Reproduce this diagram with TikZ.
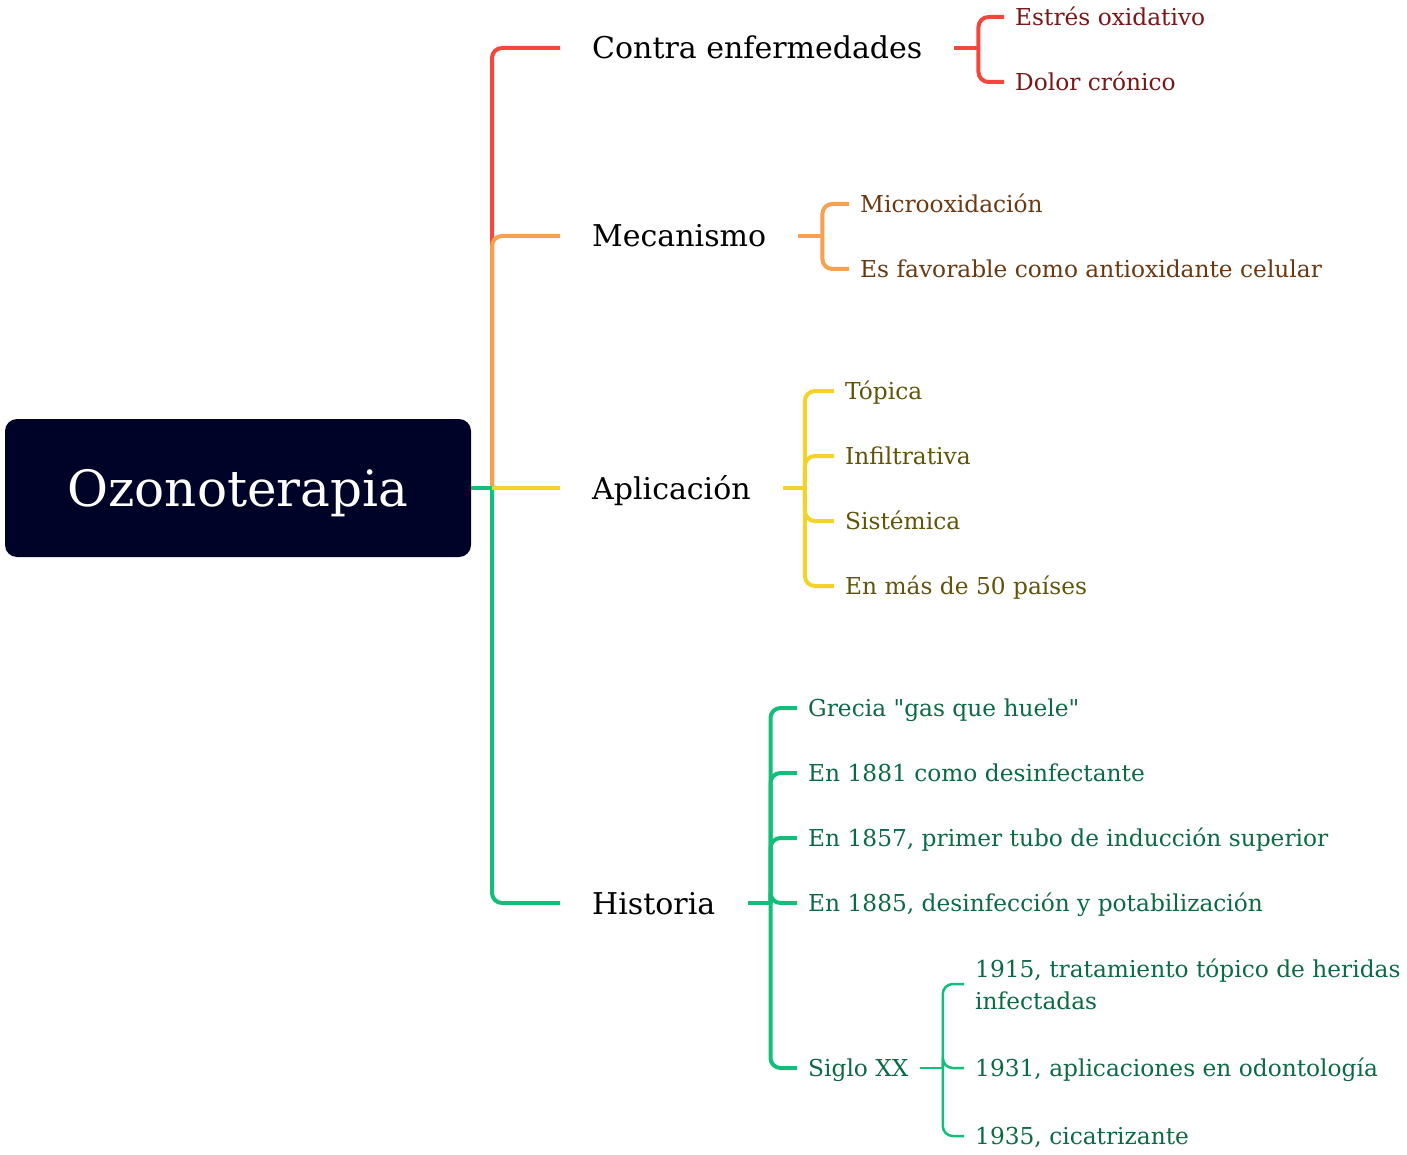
\documentclass[tikz,border=0pt]{standalone}
\usepackage{fontspec}
\setmainfont{DejaVu Serif}[Ligatures=TeXOff]
\definecolor{rootfill}{HTML}{000328}
\definecolor{redline}{HTML}{F5463E}
\definecolor{redtext}{HTML}{7A1616}
\definecolor{orangeline}{HTML}{F7A050}
\definecolor{orangetext}{HTML}{6A3912}
\definecolor{yellowline}{HTML}{F3D22A}
\definecolor{yellowtext}{HTML}{5F5408}
\definecolor{greenline}{HTML}{12BE7A}
\definecolor{greentext}{HTML}{0B6A45}
\tikzset{
  branch/.style={line width=4pt, rounded corners=10pt},
  thinbranch/.style={line width=2.5pt, rounded corners=10pt},
  topic/.style={anchor=west, inner xsep=32pt, inner ysep=0pt, text height=22pt, text depth=0pt, font=\fontsize{30}{36}\selectfont},
  leaf/.style={anchor=west, inner xsep=11pt, inner ysep=0pt, text height=17pt, text depth=0pt, font=\fontsize{23.3}{32}\selectfont},
}
\begin{document}
\begin{tikzpicture}[x=1pt,y=-1pt]
\useasboundingbox (0,0) rectangle (1407,1155);

% central topic
\node[fill=rootfill, rounded corners=12pt, minimum width=466pt, minimum height=138pt, text height=36pt, text depth=0pt, text=white, font=\fontsize{50}{60}\selectfont] (root) at (238,488) {Ozonoterapia};
\coordinate (hub) at (492,488);

% main topics
\node[topic] (contra) at (560,48) {Contra enfermedades};
\node[topic] (meca) at (560,236) {Mecanismo};
\node[topic] (aplic) at (560,488) {Aplicación};
\node[topic] (hist) at (560,903) {Historia};

\draw[branch, redline] (hub) |- (contra.west);
\draw[branch, orangeline] (hub) |- (meca.west);
\draw[line width=4pt, greenline] (root.east |- hub) -- (hub);
\draw[branch, greenline] (hub) |- (hist.west);
\draw[branch, yellowline] (hub) -- (aplic.west);

% contra enfermedades
\node[leaf, text=redtext] (estres) at (1004,17) {Estrés oxidativo};
\node[leaf, text=redtext] (dolor) at (1004,82) {Dolor crónico};
\draw[branch, redline] (contra.east) -- ++(24,0) coordinate (contraj);
\draw[branch, redline] (contraj) |- (estres.west);
\draw[branch, redline] (contraj) |- (dolor.west);

% mecanismo
\node[leaf, text=orangetext] (micro) at (849,204) {Microoxidación};
\node[leaf, text=orangetext] (antiox) at (849,269) {Es favorable como antioxidante celular};
\draw[branch, orangeline] (meca.east) -- ++(24,0) coordinate (mecaj);
\draw[branch, orangeline] (mecaj) |- (micro.west);
\draw[branch, orangeline] (mecaj) |- (antiox.west);

% aplicacion
\node[leaf, text=yellowtext] (topica) at (834,391) {Tópica};
\node[leaf, text=yellowtext] (infil) at (834,456) {Infiltrativa};
\node[leaf, text=yellowtext] (sist) at (834,521) {Sistémica};
\node[leaf, text=yellowtext] (paises) at (834,586) {En más de 50 países};
\draw[branch, yellowline] (aplic.east) -- ++(22,0) coordinate (aplicj);
\draw[branch, yellowline] (aplicj) |- (topica.west);
\draw[branch, yellowline] (aplicj) |- (infil.west);
\draw[branch, yellowline] (aplicj) |- (sist.west);
\draw[branch, yellowline] (aplicj) |- (paises.west);

% historia
\node[leaf, text=greentext] (grecia) at (797,708) {Grecia "gas que huele"};
\node[leaf, text=greentext] (y1881) at (797,773) {En 1881 como desinfectante};
\node[leaf, text=greentext] (y1857) at (797,838) {En 1857, primer tubo de inducción superior};
\node[leaf, text=greentext] (y1885) at (797,903) {En 1885, desinfección y potabilización};
\node[leaf, text=greentext] (siglo) at (797,1068) {Siglo XX};
\draw[branch, greenline] (hist.east) -- ++(23,0) coordinate (histj);
\draw[branch, greenline] (histj) |- (grecia.west);
\draw[branch, greenline] (histj) |- (y1881.west);
\draw[branch, greenline] (histj) |- (y1857.west);
\draw[branch, greenline] (histj) |- (y1885.west);
\draw[branch, greenline] (histj) |- (siglo.west);

% siglo XX
\node[leaf, text=greentext, text height=, text depth=, align=left] (y1915) at (964,984) {1915, tratamiento tópico de heridas\\infectadas};
\node[leaf, text=greentext] (y1931) at (964,1068) {1931, aplicaciones en odontología};
\node[leaf, text=greentext] (y1935) at (964,1136) {1935, cicatrizante};
\draw[thinbranch, greenline] (siglo.east) -- ++(23,0) coordinate (sigloj);
\draw[thinbranch, greenline] (sigloj) |- (y1915.west);
\draw[thinbranch, greenline] (sigloj) |- (y1931.west);
\draw[thinbranch, greenline] (sigloj) |- (y1935.west);
\end{tikzpicture}
\end{document}
